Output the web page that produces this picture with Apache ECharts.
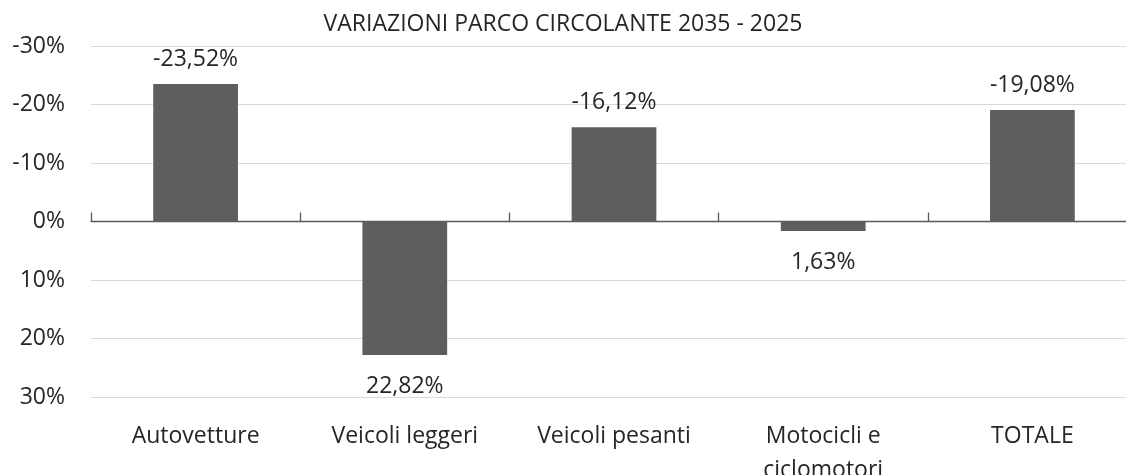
<!DOCTYPE html>
<html>
<head>
<meta charset="utf-8">
<title>Variazioni parco circolante 2035 - 2025</title>
<script src="https://cdn.jsdelivr.net/npm/echarts@6/dist/echarts.min.js"></script>
<style>
  html, body { margin: 0; padding: 0; background: #ffffff; }
  #chart { width: 1126px; height: 475px; }
</style>
</head>
<body>
<div id="chart"></div>
<script>
// Categorie del parco veicolare
const categories = ['Autovetture', 'Veicoli leggeri', 'Veicoli pesanti', 'Motocicli e\nciclomotori', 'TOTALE'];
// Variazione percentuale 2035 rispetto al 2025
const variazioni = [-23.52, 22.82, -16.12, 1.63, -19.08];
// Valori dell'asse verticale (%)
const yTicks = { min: -30, max: 30, interval: 10 };

const FONT = 'Open Sans';
const TEXT = '#262626';
const SIZE = 23;

const fmtPct = v => v.toFixed(2).replace('.', ',') + '%';

const chart = echarts.init(document.getElementById('chart'), null, { renderer: 'canvas' });

chart.setOption({
  animation: false,
  backgroundColor: '#ffffff',
  textStyle: { fontFamily: FONT },
  title: {
    text: 'VARIAZIONI PARCO CIRCOLANTE 2035 - 2025',
    left: 'center',
    top: 8,
    textStyle: { fontFamily: FONT, fontSize: 23, fontWeight: 'normal', color: TEXT }
  },
  grid: { left: 91, top: 46, width: 1046, height: 351, containLabel: false, outerBoundsMode: 'none' },
  xAxis: [
    {
      // asse allo zero con le tacche fra le categorie
      type: 'category',
      data: categories,
      position: 'bottom',
      axisLine: { onZero: true, lineStyle: { color: '#595959', width: 1.3 } },
      axisTick: { show: true, inside: true, length: 9, lineStyle: { color: '#595959', width: 1.3 } },
      axisLabel: { show: false },
      splitLine: { show: false }
    },
    {
      // etichette delle categorie in basso
      type: 'category',
      data: categories,
      position: 'bottom',
      axisLine: { show: false, onZero: false },
      axisTick: { show: false },
      axisLabel: { show: true, margin: 22, fontFamily: FONT, fontSize: SIZE, color: TEXT, lineHeight: 34 },
      splitLine: { show: false }
    }
  ],
  yAxis: {
    type: 'value',
    inverse: true,
    min: yTicks.min,
    max: yTicks.max,
    interval: yTicks.interval,
    axisLine: { show: false },
    axisTick: { show: false },
    axisLabel: { margin: 26, fontFamily: FONT, fontSize: SIZE, color: TEXT, formatter: v => v + '%' },
    splitLine: { show: true, lineStyle: { color: '#d9d9d9', width: 1 } }
  },
  series: [{
    type: 'bar',
    xAxisIndex: 0,
    barWidth: '40.5%',
    itemStyle: { color: '#5e5e5e' },
    data: variazioni.map(v => ({
      value: v,
      label: {
        show: true,
        position: v < 0 ? 'top' : 'bottom',
        distance: v < 0 ? 13 : 20,
        formatter: p => fmtPct(p.value),
        fontFamily: FONT,
        fontSize: SIZE,
        color: TEXT
      }
    }))
  }]
});
</script>
</body>
</html>
